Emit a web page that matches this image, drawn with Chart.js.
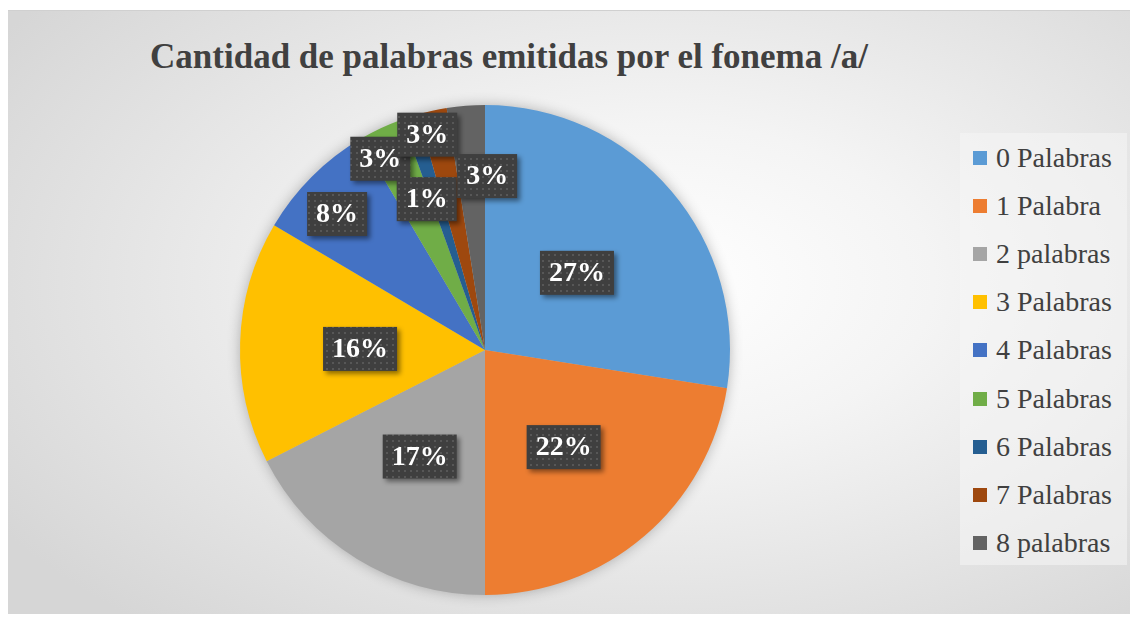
<!DOCTYPE html>
<html>
<head>
<meta charset="utf-8">
<script src="https://cdn.jsdelivr.net/npm/chart.js@4.4.1/dist/chart.umd.min.js"></script>
<style>
  body { margin: 0; background: #fff; width: 1130px; height: 618px; overflow: hidden; position: relative; }
  #marco {
    position: absolute; left: 8px; top: 10px; width: 1122px; height: 603px;
    background: radial-gradient(ellipse 70% 75% at 58% 45%, #ffffff 0%, #f4f4f4 35%, #d6d6d6 100%);
    border-top: 1px solid #d0d0d0;
  }
  #titulo {
    position: absolute; left: 0; top: 37px; width: 1018px; text-align: center; line-height: 40px;
    font: bold 35px "Liberation Serif", "Times New Roman", serif; color: #404040; white-space: nowrap;
  }
  #leyenda {
    position: absolute; left: 960px; top: 133px; width: 167px; height: 432px;
    background: rgba(245, 245, 245, 0.55); box-sizing: border-box; padding-top: 1px;
  }
  .item { height: 48.1px; display: flex; align-items: center; font: 28px "Liberation Serif", "Times New Roman", serif; color: #404040; white-space: nowrap; }
  .item span.caja { width: 14px; height: 14px; margin: 0 9px 0 13px; flex: none; }
  canvas { position: absolute; left: 0; top: 0; }
</style>
</head>
<body>
<div id="marco"></div>
<div id="titulo">Cantidad de palabras emitidas por el fonema /a/</div>
<div id="leyenda"></div>
<canvas id="grafico" width="1130" height="618"></canvas>
<script>
const categorias = ['0 Palabras', '1 Palabra', '2 palabras', '3 Palabras', '4 Palabras', '5 Palabras', '6 Palabras', '7 Palabras', '8 palabras'];
// tamaño de cada porción
const valores = [27.5, 22.5, 17.5, 16, 8, 3, 1.1, 1.9, 2.5];
// etiquetas de porcentaje tal como aparecen
const porcentajes = ['27%', '22%', '17%', '16%', '8%', '3%', '1%', '3%', '3%'];
const colores = ['#5B9BD5', '#ED7D31', '#A5A5A5', '#FFC000', '#4472C4', '#70AD47', '#255E91', '#9E480E', '#636363'];

// leyenda en html
const leyenda = document.getElementById('leyenda');
categorias.forEach((c, i) => {
    const d = document.createElement('div');
    d.className = 'item';
    d.innerHTML = `<span class="caja" style="background:${colores[i]}"></span><span>${c}</span>`;
    leyenda.appendChild(d);
});

// trama de puntos para las cajas de etiqueta
function trama(ctx) {
    const c = document.createElement('canvas');
    c.width = 6; c.height = 6;
    const t = c.getContext('2d');
    t.fillStyle = '#3f3f3f'; t.fillRect(0, 0, 6, 6);
    t.fillStyle = '#575757'; t.fillRect(2, 2, 2, 2);
    return ctx.createPattern(c, 'repeat');
}

// desplazamiento de cada etiqueta: fracción del radio y giro en grados
const ubicacion = [
    { r: 0.49, da: 0.5 }, { r: 0.51, da: 1.5 }, { r: 0.51, da: 0 }, { r: 0.51, da: -1.3 },
    { r: 0.82, da: -2.4 }, { r: 0.89, da: -3.5 }, { r: 0.66, da: -3.3 }, { r: 0.91, da: -2.6 }, { r: 0.71, da: 5.2 }
];

const sombraPie = {
    id: 'sombraPie',
    beforeDatasetsDraw(chart) {
        const arc = chart.getDatasetMeta(0).data[0];
        if (!arc) return;
        const ctx = chart.ctx;
        ctx.save();
        ctx.shadowColor = 'rgba(0,0,0,0.3)';
        ctx.shadowBlur = 14;
        ctx.fillStyle = '#bbbbbb';
        ctx.beginPath();
        ctx.arc(arc.x, arc.y, arc.outerRadius - 1, 0, Math.PI * 2);
        ctx.fill();
        ctx.restore();
    }
};

const etiquetas = {
    id: 'etiquetas',
    afterDatasetsDraw(chart) {
        const ctx = chart.ctx;
        const relleno = trama(ctx);
        chart.getDatasetMeta(0).data.forEach((arc, i) => {
            const u = ubicacion[i];
            const ang = (arc.startAngle + arc.endAngle) / 2 + u.da * Math.PI / 180;
            const x = arc.x + Math.cos(ang) * arc.outerRadius * u.r;
            const y = arc.y + Math.sin(ang) * arc.outerRadius * u.r;
            ctx.save();
            ctx.font = 'bold 28px "Liberation Serif", "Times New Roman", serif';
            const w = ctx.measureText(porcentajes[i]).width + 18;
            const h = 44;
            ctx.shadowColor = 'rgba(0,0,0,0.45)';
            ctx.shadowBlur = 5;
            ctx.shadowOffsetX = 3;
            ctx.shadowOffsetY = 3;
            ctx.fillStyle = relleno;
            ctx.fillRect(x - w / 2, y - h / 2, w, h);
            ctx.shadowColor = 'transparent';
            ctx.fillStyle = '#ffffff';
            ctx.textAlign = 'center';
            ctx.textBaseline = 'middle';
            ctx.fillText(porcentajes[i], x, y + 1);
            ctx.restore();
        });
    }
};

new Chart(document.getElementById('grafico'), {
    type: 'pie',
    data: {
        labels: categorias,
        datasets: [{
            data: valores,
            backgroundColor: colores,
            borderWidth: 0,
            hoverOffset: 0
        }]
    },
    options: {
        responsive: false,
        animation: false,
        events: [],
        layout: { padding: { left: 240, top: 105, right: 400, bottom: 23 } },
        plugins: { legend: { display: false }, tooltip: { enabled: false }, title: { display: false } }
    },
    plugins: [sombraPie, etiquetas]
});
</script>
</body>
</html>
